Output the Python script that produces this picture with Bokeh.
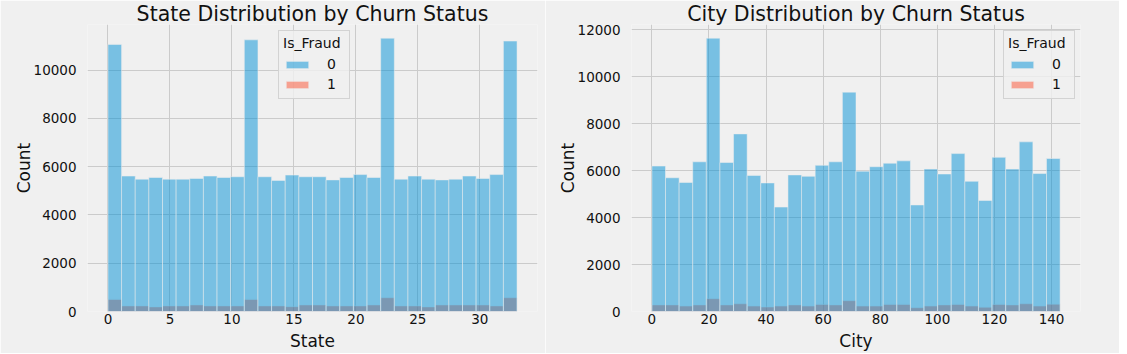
import numpy as np
from bokeh.plotting import figure
from bokeh.models import Range1d, FixedTicker, Legend, LegendItem, ColumnDataSource
from bokeh.layouts import row
from bokeh.embed import file_html
from bokeh.resources import INLINE

# ---- data ----
state_title = "State Distribution by Churn Status"
city_title = "City Distribution by Churn Status"
state_max = 33
city_max = 143
state_counts_0 = [11060, 5610, 5480, 5550, 5480, 5480, 5510, 5610, 5550, 5580,
                  11250, 5580, 5430, 5650, 5580, 5580, 5450, 5550, 5670, 5550,
                  11320, 5480, 5610, 5480, 5450, 5480, 5610, 5510, 5670, 11200]
state_counts_1 = [500, 230, 230, 190, 230, 230, 270, 230, 230, 230,
                  500, 230, 230, 200, 270, 270, 230, 230, 230, 270,
                  570, 230, 230, 190, 270, 270, 270, 270, 230, 570]
city_counts_0 = [6200, 5700, 5500, 6380, 11650, 6350, 7570, 5800, 5480, 4450,
                 5820, 5760, 6230, 6380, 9350, 5980, 6170, 6320, 6420, 4540,
                 6070, 5860, 6730, 5550, 4730, 6570, 6070, 7230, 5880, 6520]
city_counts_1 = [280, 280, 230, 280, 545, 280, 330, 230, 190, 230,
                 280, 230, 300, 280, 460, 230, 230, 300, 300, 160,
                 230, 280, 300, 230, 180, 300, 280, 330, 230, 310]
state_xticks = [0, 5, 10, 15, 20, 25, 30]
state_yticks = [0, 2000, 4000, 6000, 8000, 10000]
city_xticks = [0, 20, 40, 60, 80, 100, 120, 140]
city_yticks = [0, 2000, 4000, 6000, 8000, 10000, 12000]
legend_title = "Is_Fraud"
legend_labels = ["0", "1"]

BG = "#f0f0f0"
FONT = "DejaVu Sans"
BLUE = "#008fd5"
RED = "#fc4f30"
TXT = "#111111"


def panel(title, xlabel, c0, c1, xmax, xticks, yticks, width, mbl, mbr, leg_xy):
    edges = np.linspace(0, xmax, len(c0) + 1)
    src = ColumnDataSource(dict(left=edges[:-1], right=edges[1:], c0=c0, c1=c1))
    ytop = max(max(c0), max(c1)) * 1.05
    p = figure(width=width, height=353, output_backend="svg", toolbar_location=None,
               x_range=Range1d(-0.05 * xmax, 1.05 * xmax), y_range=Range1d(0, ytop),
               min_border_left=mbl, min_border_right=mbr, min_border_top=24,
               min_border_bottom=41)
    p.background_fill_color = BG
    p.border_fill_color = BG
    p.outline_line_color = None

    p.title.text = title
    p.title.text_font = FONT
    p.title.text_font_size = "20.5px"
    p.title.text_font_style = "normal"
    p.title.text_color = TXT
    p.title.align = "center"
    p.title.standoff = -3

    r1 = p.quad(left="left", right="right", bottom=0, top="c1", source=src,
                fill_color=RED, fill_alpha=0.5, line_color=BG, line_alpha=0.5, line_width=1)
    r0 = p.quad(left="left", right="right", bottom=0, top="c0", source=src,
                fill_color=BLUE, fill_alpha=0.5, line_color=BG, line_alpha=0.5, line_width=1)

    p.xaxis.ticker = FixedTicker(ticks=xticks)
    p.yaxis.ticker = FixedTicker(ticks=yticks)
    p.xaxis.axis_label = xlabel
    p.yaxis.axis_label = "Count"
    for ax in (p.xaxis[0], p.yaxis[0]):
        ax.axis_line_color = None
        ax.major_tick_line_color = None
        ax.minor_tick_line_color = None
        ax.major_label_text_font = FONT
        ax.major_label_text_font_size = "13.5px"
        ax.major_label_text_color = TXT
        ax.axis_label_text_font = FONT
        ax.axis_label_text_font_size = "17px"
        ax.axis_label_text_font_style = "normal"
        ax.axis_label_text_color = TXT
    p.xaxis.major_label_standoff = -4
    p.xaxis.axis_label_standoff = 4
    p.yaxis.major_label_standoff = 5
    p.yaxis.axis_label_standoff = -3
    p.yaxis.major_label_orientation = "horizontal"

    p.xgrid.ticker = FixedTicker(ticks=xticks)
    p.ygrid.ticker = FixedTicker(ticks=yticks)
    for g in (p.xgrid[0], p.ygrid[0]):
        g.grid_line_color = "#cbcbcb"
        g.grid_line_width = 1

    leg = Legend(items=[LegendItem(label=legend_labels[0], renderers=[r0]),
                        LegendItem(label=legend_labels[1], renderers=[r1])],
                 location=leg_xy, title=legend_title)
    leg.title_text_font = FONT
    leg.title_text_font_size = "14px"
    leg.title_text_font_style = "normal"
    leg.title_text_color = TXT
    leg.title_standoff = 3
    leg.label_text_font = FONT
    leg.label_text_font_size = "14px"
    leg.label_text_color = TXT
    leg.glyph_width = 28
    leg.glyph_height = 9
    leg.label_height = 20
    leg.label_width = 18
    leg.label_standoff = 16
    leg.spacing = 0
    leg.padding = 4
    leg.margin = 0
    leg.background_fill_color = BG
    leg.background_fill_alpha = 0.8
    leg.border_line_color = "#cccccc"
    leg.border_line_alpha = 0.8
    p.add_layout(leg)
    return p


p1 = panel(state_title, "State", state_counts_0, state_counts_1, state_max,
           state_xticks, state_yticks, 545, 87, 8, (191, 212))
p2 = panel(city_title, "City", city_counts_0, city_counts_1, city_max,
           city_xticks, city_yticks, 574, 86, 39, (372, 212))

layout = row(p1, p2, spacing=0)
open("out.html", "w").write(file_html(layout, INLINE))
